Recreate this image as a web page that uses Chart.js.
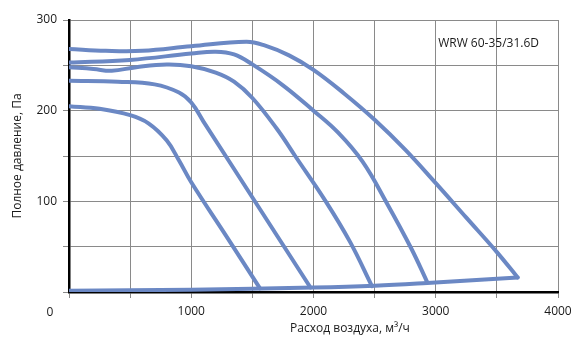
<!DOCTYPE html>
<html>
<head>
<meta charset="utf-8">
<script src="https://cdn.jsdelivr.net/npm/chart.js@4"></script>
<style>
  html, body { margin: 0; padding: 0; background: #fff; }
</style>
</head>
<body>
<canvas id="grafico" width="571" height="340"></canvas>
<script>
// Кривые вентилятора: расход (м³/ч) и полное давление (Па)
const flowA = [0, 300, 600, 1000, 1450, 1600, 1800, 2000, 2250, 2500, 2750, 3000, 3250, 3500, 3670];
const paA   = [268, 266, 266, 271, 276, 272, 261, 245, 219, 190, 157, 120, 82, 44, 16];

const flowB = [0, 500, 1000, 1200, 1350, 1500, 1750, 2000, 2200, 2400, 2600, 2800, 2930];
const paB   = [253, 256, 263, 265, 262, 251, 228, 200, 176, 144, 98, 48, 11];

const flowC = [0, 200, 350, 550, 800, 1000, 1200, 1350, 1500, 1700, 1850, 2100, 2300, 2478];
const paC   = [248, 246, 244, 248, 251, 249, 242, 232, 214, 180, 150, 100, 55, 6.5];

const flowD = [0, 400, 700, 900, 1000, 1100, 1540, 1975];
const paD   = [233, 232, 229, 220, 209, 188, 96, 5];

const flowE = [0, 250, 500, 650, 800, 900, 1000, 1280, 1562];
const paE   = [205, 202, 195, 186, 167, 145, 121, 63, 4];

// нижняя граница (линия окончания кривых)
const flowBase = [0, 1000, 2000, 2500, 2930, 3670];
const paBase   = [1.5, 2.5, 5, 7, 10, 16];

const xTicks = [0, 1000, 2000, 3000, 4000];
const yTicks = [100, 200, 300];

const corLinha = '#6b88c4';

function pontos(xs, ys) {
  return xs.map((x, i) => ({ x: x, y: ys[i] }));
}

function serie(xs, ys) {
  return {
    data: pontos(xs, ys),
    borderColor: corLinha,
    borderWidth: 4,
    pointRadius: 0,
    tension: 0.4,
    borderCapStyle: 'round',
    borderJoinStyle: 'round',
    fill: false
  };
}

// Textos extra: "0", título do eixo X e a marca do modelo
const textos = {
  id: 'textos',
  afterDraw(chart) {
    const ctx = chart.ctx;
    const area = chart.chartArea;
    ctx.save();
    ctx.fillStyle = '#1a1a1a';
    ctx.font = '12px "Open Sans"';
    ctx.textBaseline = 'middle';
    ctx.textAlign = 'center';
    ctx.fillText('0', area.left - 19, area.bottom + 21);
    ctx.fillText('Расход воздуха, м³/ч', area.left + 281, area.bottom + 37);
    ctx.textAlign = 'right';
    ctx.fillText('WRW 60-35/31.6D', area.right - 19, area.top + 24);
    ctx.restore();
  }
};

new Chart(document.getElementById('grafico'), {
  type: 'line',
  data: {
    datasets: [
      serie(flowBase, paBase),
      serie(flowE, paE),
      serie(flowD, paD),
      serie(flowC, paC),
      serie(flowB, paB),
      serie(flowA, paA)
    ]
  },
  options: {
    responsive: false,
    animation: false,
    layout: { padding: { top: 20, right: 13, left: 0, bottom: 0 } },
    plugins: { legend: { display: false }, tooltip: { enabled: false } },
    scales: {
      x: {
        type: 'linear',
        min: 0,
        max: 4000,
        afterFit(s) { s.height = 48; s.paddingRight = 0; s.paddingLeft = 0; },
        border: { color: '#000', width: 2.5 },
        grid: { color: '#8a8a8a', lineWidth: 1, tickLength: 6 },
        ticks: {
          stepSize: 500,
          autoSkip: false,
          maxRotation: 0,
          padding: 6,
          color: '#1a1a1a',
          font: { family: 'Open Sans', size: 12 },
          callback: v => (xTicks.includes(v) && v !== 0) ? String(v) : ''
        }
      },
      y: {
        min: 0,
        max: 300,
        afterFit(s) { s.width = 69; s.paddingTop = 0; s.paddingBottom = 0; },
        border: { color: '#000', width: 2.5 },
        grid: { color: '#8a8a8a', lineWidth: 1, tickLength: 6 },
        ticks: {
          stepSize: 50,
          autoSkip: false,
          padding: 6,
          color: '#1a1a1a',
          font: { family: 'Open Sans', size: 12 },
          callback: v => yTicks.includes(v) ? String(v) : ''
        },
        title: {
          display: true,
          text: 'Полное давление, Па',
          color: '#1a1a1a',
          font: { family: 'Open Sans', size: 12 },
          padding: { top: 10, bottom: 0 }
        }
      }
    }
  },
  plugins: [textos]
});
</script>
</body>
</html>
